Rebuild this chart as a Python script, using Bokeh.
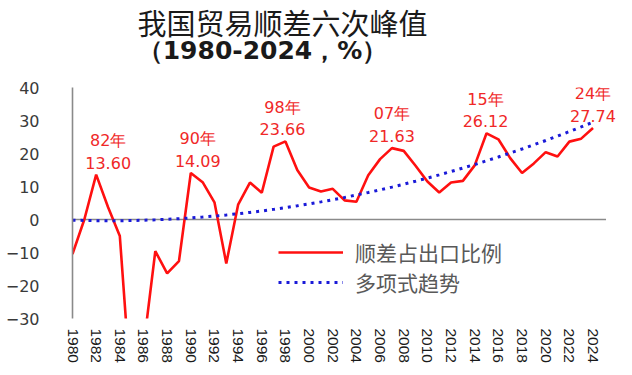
from bokeh.plotting import figure
from bokeh.layouts import column
from bokeh.models import Label, FixedTicker, Legend, LegendItem, Range1d
from bokeh.core.properties import value
from bokeh.embed import file_html
from bokeh.resources import INLINE

years = list(range(1980, 2025))
ratio = [-10.5, 0.0, 13.60, 3.8, -5.0, -54.5, -38.8, -9.6, -16.3, -12.6,
         14.09, 11.3, 5.2, -13.3, 4.5, 11.2, 8.1, 22.1, 23.66, 15.0,
         9.7, 8.5, 9.3, 5.8, 5.4, 13.4, 18.3, 21.63, 20.8, 16.3,
         11.5, 8.2, 11.2, 11.7, 16.4, 26.12, 24.3, 18.6, 14.1, 17.0,
         20.4, 19.1, 23.6, 24.5, 27.74]
trend = [-0.20, -0.29, -0.35, -0.37, -0.36, -0.31, -0.23, -0.10, 0.05, 0.25,
         0.47, 0.74, 1.04, 1.37, 1.74, 2.15, 2.58, 3.07, 3.59, 4.14,
         4.72, 5.34, 6.00, 6.69, 7.42, 8.19, 8.99, 9.82, 10.69, 11.60,
         12.54, 13.52, 14.54, 15.59, 16.67, 17.80, 18.95, 20.15, 21.37, 22.64,
         23.94, 25.28, 26.65, 28.06, 29.50]
peak_years = [1982, 1990, 1998, 2007, 2015, 2024]
peak_tags = ["82年", "90年", "98年", "07年", "15年", "24年"]
peak_values = [13.60, 14.09, 23.66, 21.63, 26.12, 27.74]
peak_dx = [12, 7, -3, 0, -1, 0]
y_ticks = [-30, -20, -10, 0, 10, 20, 30, 40]
x_ticks = years[::2]
series_names = ["顺差占出口比例", "多项式趋势"]
title_main = "我国贸易顺差六次峰值"
title_sub = "（1980-2024，%）"

# ---- title strip (pixel coordinates, frame aligned with chart frame) ----
t = figure(width=632, height=75, x_range=Range1d(72, 628), y_range=Range1d(75, 0),
           output_backend="svg", toolbar_location=None, x_axis_type=None, y_axis_type=None,
           min_border_left=72, min_border_right=4, min_border_top=0, min_border_bottom=0)
t.outline_line_color = None
t.xgrid.visible = False
t.ygrid.visible = False
t.text(x=[282], y=[21], text=[title_main], text_align="center", text_baseline="middle",
       text_font=value("Noto Sans CJK SC"), text_font_size="29px", text_color="#1a1a1a")
t.text(x=[262], y=[50], text=[title_sub], text_align="center", text_baseline="middle",
       text_font=value("DejaVu Sans"), text_font_style="bold", text_font_size="25px",
       text_color="#1a1a1a")

# ---- chart ----
p = figure(width=632, height=300, x_range=Range1d(1980, 2027), y_range=Range1d(-30, 40),
           output_backend="svg", toolbar_location=None,
           min_border_left=72, min_border_right=4, min_border_top=12, min_border_bottom=57)
p.outline_line_color = None
p.xgrid.visible = False
p.ygrid.visible = False
p.background_fill_color = "white"

# horizontal category axis line crossing at zero
p.segment(x0=[years[0]], y0=[0], x1=[years[-1] + 1.1], y1=[0], line_color="#8a8a8a", line_width=1.6)

r1 = p.line(years, ratio, line_color="#ff1010", line_width=2.6)
r2 = p.line(years, trend, line_color="#1a1ad8", line_width=3, line_dash="3 5")

p.yaxis.ticker = FixedTicker(ticks=y_ticks)
p.yaxis.axis_line_color = "#8a8a8a"
p.yaxis.axis_line_width = 1.6
p.yaxis.major_tick_line_color = None
p.yaxis.minor_tick_line_color = None
p.yaxis.major_tick_out = 0
p.yaxis.major_label_standoff = 33
p.yaxis.major_label_text_font = "DejaVu Sans"
p.yaxis.major_label_text_font_size = "16px"
p.yaxis.major_label_text_color = "#3a3a3a"

p.xaxis.ticker = FixedTicker(ticks=x_ticks)
p.xaxis.axis_line_color = None
p.xaxis.major_tick_line_color = None
p.xaxis.minor_tick_line_color = None
p.xaxis.major_tick_out = 0
p.xaxis.major_label_orientation = "vertical"
p.xaxis.major_label_standoff = 10
p.xaxis.major_label_text_font = "Liberation Sans"
p.xaxis.major_label_text_font_size = "15.5px"
p.xaxis.major_label_text_color = "#1a1a1a"

for yr, tag, val, dx in zip(peak_years, peak_tags, peak_values, peak_dx):
    p.add_layout(Label(x=yr, y=val, text=f"{tag}\n{val:.2f}", text_align="center",
                       text_baseline="bottom", x_offset=dx, y_offset=2,
                       text_font="DejaVu Sans", text_font_size="16px", text_color="#f02828"))

legend = Legend(items=[LegendItem(label=series_names[0], renderers=[r1]),
                       LegendItem(label=series_names[1], renderers=[r2])],
                location=(206, 21), border_line_color=None, background_fill_alpha=0,
                padding=0, margin=0, spacing=0, glyph_width=65, glyph_height=20,
                label_standoff=12, label_height=20, label_text_font="Noto Sans CJK SC",
                label_text_font_size="21px", label_text_color="#595959")
p.add_layout(legend)

layout = column(t, p, spacing=0)
open("out.html", "w").write(file_html(layout, INLINE))
